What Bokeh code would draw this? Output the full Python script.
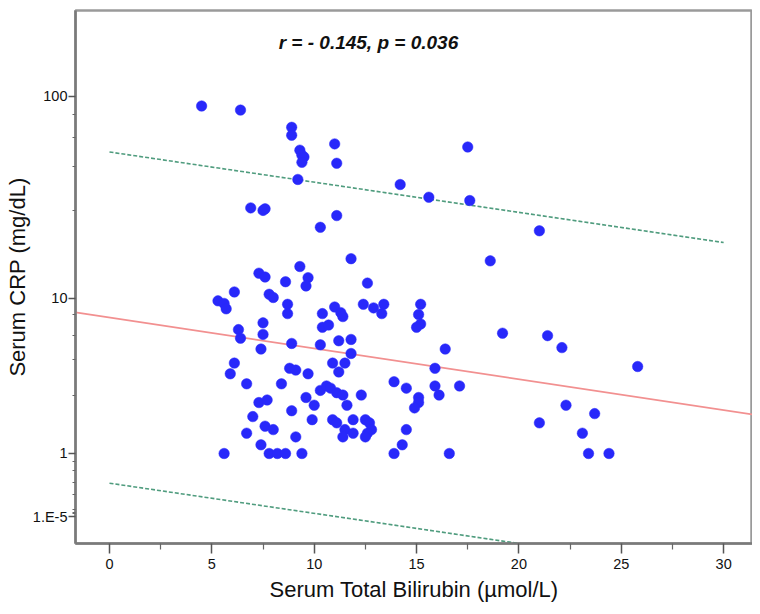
import numpy as np
from bokeh.plotting import figure
from bokeh.models import FixedTicker, CustomJSTickFormatter, Range1d, Label, ColumnDataSource
from bokeh.embed import file_html
from bokeh.resources import INLINE

# ---- data ----
bilirubin = [4.5, 6.4, 8.9, 8.9, 9.3, 9.4, 9.5, 9.4, 11.0, 11.1, 9.2, 6.9, 7.5, 7.6, 11.1, 10.3, 11.8,
             17.5, 14.2, 15.6, 17.6, 21.0, 18.6,
             7.3, 7.6, 9.3, 8.6, 9.7, 9.6, 12.6, 6.1, 5.3, 5.6, 5.7, 7.8, 8.0, 8.7, 8.7, 10.4, 11.0, 11.3,
             11.4, 12.4, 12.9, 13.4, 13.3, 7.5, 10.4, 10.7, 6.3, 6.4, 7.5, 7.4, 8.9, 10.3, 11.2, 11.8, 11.8,
             6.1, 5.9, 8.8, 9.1, 9.7, 10.9, 11.5, 11.2, 6.7, 8.4, 13.9, 14.5, 10.3, 10.6, 10.8, 11.1, 11.4,
             12.3, 9.6, 7.3, 7.7, 10.0, 11.6, 8.9, 7.0, 9.9, 10.9, 11.1, 11.9, 12.5, 12.7, 7.6, 8.0, 11.5,
             11.9, 12.8, 12.6, 14.5, 6.7, 9.1, 11.4, 12.5, 7.4, 14.3, 5.6, 7.8, 8.2, 8.6, 9.4, 13.9,
             15.2, 15.1, 15.2, 15.0, 16.4, 19.2, 21.4, 22.1, 25.8, 15.9, 15.9, 16.1, 17.1, 15.1, 15.1, 14.9,
             22.3, 23.7, 21.0, 23.1, 16.6, 23.4, 24.4]
crp = [90, 86, 71, 65, 55, 52, 51, 48, 59, 47.5, 39.6, 28.7, 27.9, 28.4, 26.3, 23, 16,
       57, 37.4, 32.4, 31.2, 22.1, 15.6,
       13.5, 12.9, 14.6, 12.2, 12.8, 11.6, 12.0, 10.8, 9.7, 9.4, 8.8, 10.5, 10.1, 9.3, 8.3, 8.3, 9.0, 8.4,
       8.0, 9.3, 8.9, 9.3, 8.3, 7.4, 7.0, 7.2, 6.8, 6.1, 6.4, 5.3, 5.7, 5.6, 5.9, 6.0, 5.0,
       4.4, 3.8, 4.1, 4.0, 3.8, 4.4, 4.4, 3.9, 3.3, 3.3, 3.4, 3.1, 3.0, 3.2, 3.1, 2.9, 2.8,
       2.8, 2.7, 2.5, 2.6, 2.4, 2.4, 2.2, 2.0, 1.9, 1.9, 1.8, 1.9, 1.9, 1.8, 1.7, 1.6, 1.6,
       1.5, 1.6, 1.5, 1.6, 1.5, 1.4, 1.4, 1.4, 1.2, 1.2, 1.0, 1.0, 1.0, 1.0, 1.0, 1.0,
       9.3, 8.2, 7.3, 7.0, 5.3, 6.5, 6.3, 5.4, 4.2, 4.1, 3.2, 2.8, 3.2, 2.7, 2.5, 2.3,
       2.4, 2.1, 1.8, 1.5, 1.0, 1.0, 1.0]

# fit line and 95% bounds, CRP read at bilirubin = 0 and 30
fit_x = [0, 30]
fit_crp = [7.9, 2.22]
upper_crp = [53.9, 19.3]
lower_crp = [0.443, -0.871]

annotation = "r = - 0.145, p = 0.036"

x_ticks = [0, 5, 10, 15, 20, 25, 30]
x_minor_ticks = [2.5, 7.5, 12.5, 17.5, 22.5, 27.5]
y_tick_values = [1e-5, 1, 10, 100]
y_tick_labels = ["1.E-5", "1", "10", "100"]
y_minor_values = [81.8, 63.4, 45.8, 27.9, 8.2, 6.3, 4.6, 2.8, 0.83, 0.66, 0.455, 0.27, 0.08, 0.05, 0.03]

x_range = (-1.66, 31.41)
crp_range = (-0.344, 258.8)


def safe_log(v):
    v = np.asarray(v, dtype=float)
    return np.sign(v) * np.log10(1 + np.abs(v))


t_pts = safe_log(crp)
t_lo, t_hi = safe_log(crp_range)

p = figure(width=752, height=606, output_backend="svg", toolbar_location=None,
           x_range=Range1d(*x_range), y_range=Range1d(float(t_lo), float(t_hi)),
           min_border_left=75, min_border_right=0, min_border_top=10, min_border_bottom=63,
           background_fill_color="white", border_fill_color="white")
p.grid.visible = False
p.outline_line_color = "#9a9a9a"
p.outline_line_width = 2.5

# regression line (straight in the displayed scale), extended over the full width
tf = safe_log(fit_crp)
fx = np.array(x_range)
fy = tf[0] + (tf[1] - tf[0]) * (fx - fit_x[0]) / (fit_x[1] - fit_x[0])
p.line(fx, fy, line_color="#f29090", line_width=1.8)

p.line(fit_x, safe_log(upper_crp), line_color="#4f9c7e", line_width=1.6, line_dash="4 2")
p.line(fit_x, safe_log(lower_crp), line_color="#4f9c7e", line_width=1.6, line_dash="4 2")

src = ColumnDataSource(dict(x=bilirubin, y=t_pts))
p.scatter("x", "y", source=src, size=10.5, fill_color="#2828fa", line_color="#2828fa", line_width=0.5)

# axes
p.xaxis.ticker = FixedTicker(ticks=x_ticks, minor_ticks=x_minor_ticks)
ypos = [float(v) for v in safe_log(y_tick_values)]
p.yaxis.ticker = FixedTicker(ticks=ypos, minor_ticks=[float(v) for v in safe_log(y_minor_values)])
p.yaxis.formatter = CustomJSTickFormatter(args=dict(pos=ypos, labs=y_tick_labels), code="""
for (let i = 0; i < pos.length; i++) { if (Math.abs(pos[i] - tick) < 1e-9) return labs[i]; }
return "";
""")

for ax in (p.xaxis[0], p.yaxis[0]):
    ax.axis_line_color = "#7a7a7a"
    ax.axis_line_width = 2.5
    ax.major_tick_line_color = "#555555"
    ax.minor_tick_line_color = "#666666"
    ax.major_tick_line_width = 1.5
    ax.minor_tick_line_width = 1.2
    ax.major_tick_in = 0
    ax.minor_tick_in = 0
    ax.major_label_text_font = "Liberation Sans"
    ax.major_label_text_font_size = "14.5px"
    ax.major_label_text_color = "#111111"
    ax.axis_label_text_font = "Liberation Sans"
    ax.axis_label_text_font_size = "22px"
    ax.axis_label_text_font_style = "normal"
    ax.axis_label_text_color = "#111111"

p.xaxis.major_tick_out = 10
p.xaxis.minor_tick_out = 6
p.yaxis.major_tick_out = 7
p.yaxis.minor_tick_out = 3
p.xaxis.major_label_standoff = 5
p.yaxis.major_label_standoff = 1
p.xaxis.axis_label = "Serum Total Bilirubin (µmol/L)"
p.yaxis.axis_label = "Serum CRP (mg/dL)"
p.xaxis.axis_label_standoff = 5
p.yaxis.axis_label_standoff = 0

p.add_layout(Label(x=12.65, y=2.262, text=annotation, text_align="center", text_baseline="middle",
                   text_font="Liberation Sans", text_font_size="19px", text_font_style="bold italic",
                   text_color="#111111"))

open("out.html", "w").write(file_html(p, INLINE))
